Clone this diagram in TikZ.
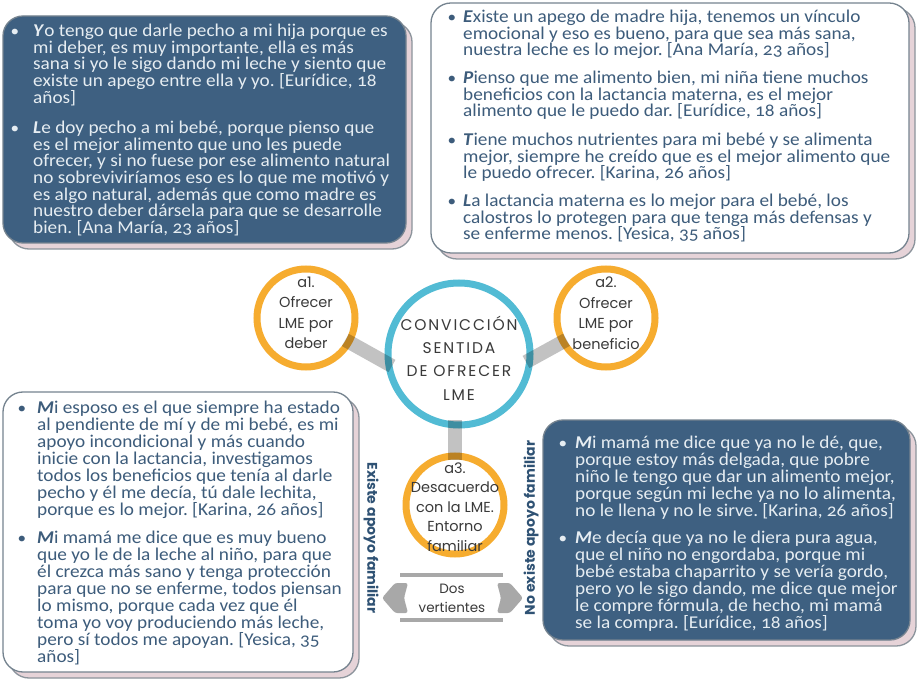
\documentclass[tikz,border=0pt]{standalone}
\usepackage{fontspec}
\setmainfont{Carlito}[Numbers=OldStyle, FakeStretch=1.07]
\newfontfamily\geo{Poppins}
\newfontfamily\geotitle{Poppins}[LetterSpace=12]
\usetikzlibrary{calc}
\definecolor{boxblue}{HTML}{3E6081}
\definecolor{boxedge}{HTML}{75838F}
\definecolor{shadowpink}{HTML}{E6D3D8}
\definecolor{shadowedge}{HTML}{8C949C}
\definecolor{lighttext}{HTML}{E6EDF2}
\definecolor{darktext}{HTML}{3D5C7B}
\definecolor{ringorange}{HTML}{F6AC2F}
\definecolor{ringblue}{HTML}{52BBD4}
\definecolor{bargrey}{HTML}{C2C2C2}
\definecolor{circtext}{HTML}{3A3A3A}
\definecolor{labelblue}{HTML}{2F5274}
\definecolor{arrowgrey}{HTML}{A8A8A8}
\newcommand{\ini}[1]{\textbf{\textit{#1}}}
\newcommand{\fs}{\rule{0pt}{14pt}}
\lineskiplimit=-100pt
\frenchspacing
\tikzset{
  darkbox/.style={draw=boxedge, line width=1.3pt, fill=boxblue, rounded corners=20pt},
  lightbox/.style={draw=boxedge, line width=1.3pt, fill=white, rounded corners=20pt},
  shadowbox/.style={draw=shadowedge, line width=1.3pt, fill=shadowpink, rounded corners=20pt},
  paratop/.style={anchor=north west, inner sep=0pt, align=left,
    font=\fontsize{18}{16.6}\selectfont},
  parabot/.style={anchor=north west, inner sep=0pt, align=left,
    font=\fontsize{18}{17}\selectfont},
  bul/.style={anchor=base, inner sep=0pt, font=\fontsize{16}{16}\selectfont},
  ocirc/.style={circle, draw=ringorange, line width=7pt, fill=white, minimum size=98pt, inner sep=0pt},
  bcirc/.style={circle, draw=ringblue, line width=7pt, fill=white, minimum size=142pt, inner sep=0pt},
  circlabel/.style={align=center, inner sep=0pt, text=circtext, font=\geo\fontsize{14.5}{20.5}\selectfont},
  bar/.style={draw=bargrey, line width=14pt, blend mode=multiply},
  vlabel/.style={inner sep=0pt, text=labelblue, font=\geo\bfseries\fontsize{14}{14}\selectfont},
  guide/.style={draw=arrowgrey, line width=4pt},
  blob/.style={fill=arrowgrey, rounded corners=2.5pt}
}
\begin{document}
\begin{tikzpicture}[x=1pt,y=-1pt]
\useasboundingbox (0,0) rectangle (918,684);
\fill[white] (0,0) rectangle (918,684);

% ---------- boxes ----------
\draw[shadowbox] (9,22) rectangle (412,249);
\draw[darkbox] (3,16) rectangle (406,243);
\draw[shadowbox] (437,8) rectangle (915,259);
\draw[lightbox] (431,3) rectangle (909,253);
\draw[shadowbox] (9,398) rectangle (359,678);
\draw[lightbox] (3,392) rectangle (353,672);
\draw[shadowbox] (549,426) rectangle (916,646);
\draw[darkbox] (543,420) rectangle (910,640);

% ---------- top left ----------
\node[bul, text=lighttext] (btl1) at (15,36.5) {•};
\node[paratop, text=lighttext] (tl1) at (33,22.5) {\fs\ini{Y}o tengo que darle pecho a mi hija porque es\\
mi deber, es muy importante, ella es más\\
sana si yo le sigo dando mi leche y siento que\\
existe un apego entre ella y yo. [Eurídice, 18\\
años]};
\node[bul, text=lighttext] (btl2) at (15,133.5) {•};
\node[paratop, text=lighttext] (tl2) at (33,119.5) {\fs\ini{L}e doy pecho a mi bebé, porque pienso que\\
es el mejor alimento que uno les puede\\
ofrecer, y si no fuese por ese alimento natural\\
no sobreviviríamos eso es lo que me motivó y\\
es algo natural, además que como madre es\\
nuestro deber dársela para que se desarrolle\\
bien. [Ana María, 23 años]};

% ---------- top right ----------
\node[bul, text=darktext] (btr1) at (452,22.5) {•};
\node[paratop, text=darktext] (tr1) at (463,8.5) {\fs\ini{E}xiste un apego de madre hija, tenemos un vínculo\\
emocional y eso es bueno, para que sea más sana,\\
nuestra leche es lo mejor. [Ana María, 23 años]};
\node[bul, text=darktext] (btr2) at (452,83.5) {•};
\node[paratop, text=darktext] (tr2) at (463,69.5) {\fs\ini{P}ienso que me alimento bien, mi niña tiene muchos\\
beneficios con la lactancia materna, es el mejor\\
alimento que le puedo dar. [Eurídice, 18 años]};
\node[bul, text=darktext] (btr3) at (452,145.5) {•};
\node[paratop, text=darktext] (tr3) at (463,131.5) {\fs\ini{T}iene muchos nutrientes para mi bebé y se alimenta\\
mejor, siempre he creído que es el mejor alimento que\\
le puedo ofrecer. [Karina, 26 años]};
\node[bul, text=darktext] (btr4) at (452,206.5) {•};
\node[paratop, text=darktext] (tr4) at (463,192.5) {\fs\ini{L}a lactancia materna es lo mejor para el bebé, los\\
calostros lo protegen para que tenga más defensas y\\
se enferme menos. [Yesica, 35 años]};

% ---------- bottom left ----------
\node[bul, text=darktext] (bbl1) at (22,413) {•};
\node[parabot, text=darktext] (bl1) at (37,399) {\fs\ini{M}i esposo es el que siempre ha estado\\
al pendiente de mí y de mi bebé, es mi\\
apoyo incondicional y más cuando\\
inicie con la lactancia, investigamos\\
todos los beneficios que tenía al darle\\
pecho y él me decía, tú dale lechita,\\
porque es lo mejor. [Karina, 26 años]};
\node[bul, text=darktext] (bbl2) at (22,543) {•};
\node[parabot, text=darktext] (bl2) at (37,529) {\fs\ini{M}i mamá me dice que es muy bueno\\
que yo le de la leche al niño, para que\\
él crezca más sano y tenga protección\\
para que no se enferme, todos piensan\\
lo mismo, porque cada vez que él\\
toma yo voy produciendo más leche,\\
pero sí todos me apoyan. [Yesica, 35\\
años]};

% ---------- bottom right ----------
\node[bul, text=lighttext] (bbr1) at (563,448) {•};
\node[parabot, text=lighttext] (br1) at (575,434) {\fs\ini{M}i mamá me dice que ya no le dé, que,\\
porque estoy más delgada, que pobre\\
niño le tengo que dar un alimento mejor,\\
porque según mi leche ya no lo alimenta,\\
no le llena y no le sirve. [Karina, 26 años]};
\node[bul, text=lighttext] (bbr2) at (563,543) {•};
\node[parabot, text=lighttext] (br2) at (575,529) {\fs\ini{M}e decía que ya no le diera pura agua,\\
que el niño no engordaba, porque mi\\
bebé estaba chaparrito y se vería gordo,\\
pero yo le sigo dando, me dice que mejor\\
le compre fórmula, de hecho, mi mamá\\
se la compra. [Eurídice, 18 años]};

% ---------- circles ----------
\node[ocirc] (a1) at (306,318) {};
\node[ocirc] (a2) at (606,318) {};
\node[ocirc] (a3) at (455,505) {};
\node[bcirc] (c0) at (459,354) {};

\coordinate (j1) at (392,366);
\coordinate (j2) at (526,362);
\coordinate (j3) at (455,420);
\draw[bar, shorten <=45pt] (a1.center) -- (j1);
\draw[bar, shorten <=45pt] (a2.center) -- (j2);
\draw[bar, shorten >=45pt] (j3) -- (a3.center);

\node[circlabel] (ta1) at (306,313) {a1.\\Ofrecer\\LME por\\deber};
\node[circlabel] (ta2) at (606,313) {a2.\\Ofrecer\\LME por\\beneficio};
\node[circlabel, font=\geo\fontsize{14.5}{19.5}\selectfont] (ta3) at (455,507) {a3.\\Desacuerdo\\con la LME.\\Entorno\\familiar};
\node[align=center, inner sep=0pt, text=circtext, font=\geotitle\fontsize{15.5}{23.3}\selectfont] (tc0) at (459,358) {CONVICCIÓN\\SENTIDA\\DE OFRECER\\LME};

% ---------- dos vertientes ----------
\coordinate (g1a) at (400,575); \coordinate (g1b) at (503,575);
\coordinate (g2a) at (400,620); \coordinate (g2b) at (503,620);
\draw[guide] (g1a) -- (g1b);
\draw[guide] (g2a) -- (g2b);
\fill[blob] (408,583) -- (395,583) -- (382,598) -- (395,613) -- (408,613) -- (404,598) -- cycle;
\fill[blob] (497,583) -- (510,583) -- (523,598) -- (510,613) -- (497,613) -- (501,598) -- cycle;
\node[align=center, inner sep=0pt, text=circtext, font=\geo\fontsize{13.5}{19}\selectfont] (dv) at (452,598) {Dos\\vertientes};

% ---------- vertical labels ----------
\node[vlabel, rotate=-90] (lex) at (371,538) {Existe apoyo familiar};
\node[vlabel, rotate=90] (lno) at (531,528) {No existe apoyo familiar};
\end{tikzpicture}
\end{document}
